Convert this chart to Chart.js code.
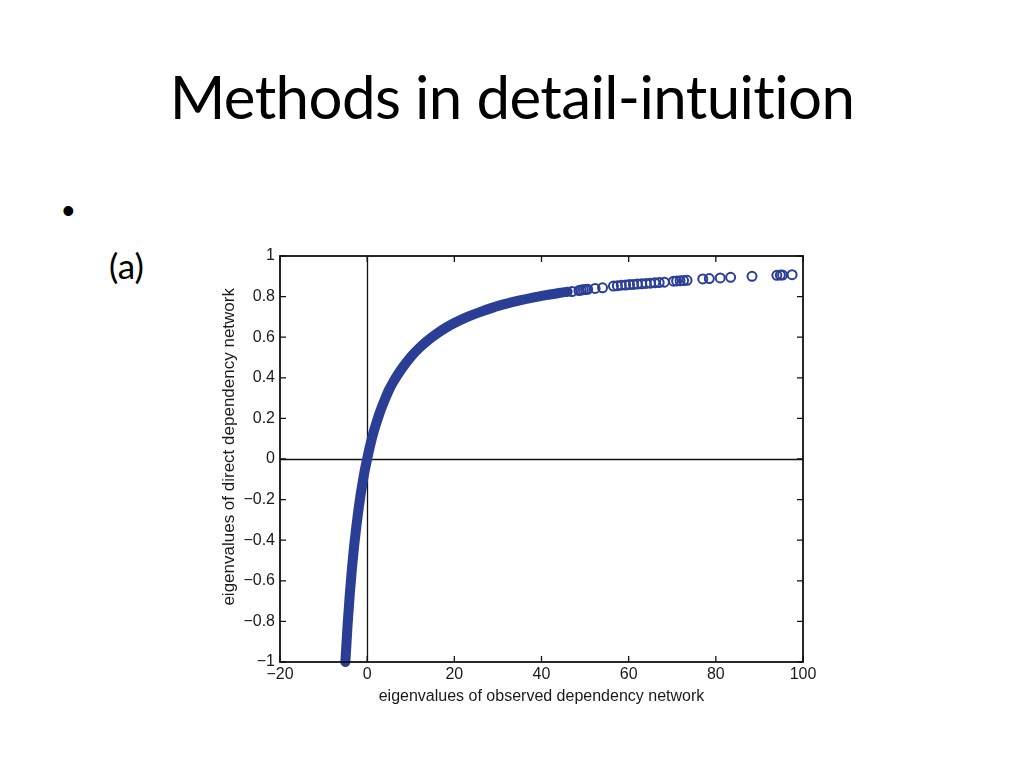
<!DOCTYPE html>
<html>
<head>
<meta charset="utf-8">
<script src="https://cdn.jsdelivr.net/npm/chart.js@4.4.1/dist/chart.umd.min.js"></script>
<style>
  body { margin: 0; background: #fff; width: 1024px; height: 768px; position: relative; overflow: hidden; }
  #title { position: absolute; left: 0; width: 1024px; top: 60px; text-align: center; font-family: Lato, "Open Sans", sans-serif; font-size: 60px; letter-spacing: -0.6px; font-variant-ligatures: none; color: #000; }
  #bullet { position: absolute; left: 62px; top: 190px; font-family: Arial, sans-serif; font-size: 36px; }
  #lbl { position: absolute; left: 109px; top: 244px; font-family: Lato, sans-serif; font-size: 35px; font-variant-ligatures: none; }
  #wrap { position: absolute; left: 215px; top: 240px; width: 615px; height: 470px; }
</style>
</head>
<body>
<div id="title">Methods in detail-intuition</div>
<div id="bullet">•</div>
<div id="lbl">(a)</div>
<div id="wrap"><canvas id="grafik"></canvas></div>
<script>
// dense part of the curve (drawn as a thick band of overlapping markers)
const denseX = [-5, -4.5, -4, -3.5, -3, -2.5, -2, -1.5, -1, -0.5, 0, 0.5, 1, 1.5, 2, 3, 4, 5, 6, 7, 8, 10, 12, 14, 16, 18, 20, 23, 26, 29, 32, 35, 38, 41, 44, 46];
const denseY = [-1.0, -0.82, -0.67, -0.54, -0.43, -0.335, -0.25, -0.175, -0.11, -0.05, 0.0, 0.05, 0.095, 0.135, 0.17, 0.235, 0.29, 0.34, 0.38, 0.415, 0.447, 0.503, 0.548, 0.586, 0.618, 0.646, 0.67, 0.7, 0.725, 0.747, 0.765, 0.781, 0.795, 0.807, 0.818, 0.824];
// sparse tail of separate eigenvalues
const tailX = [47, 48.6, 49.1, 49.6, 50.1, 50.6, 52.3, 54, 56.5, 57.4, 58.3, 59.3, 60.2, 61.1, 62, 63, 64, 65, 66, 67, 68.2, 70.3, 71, 71.8, 72.6, 73.4, 77, 78.5, 81, 83.4, 88.3, 94, 94.8, 95.3, 97.5];
const tailY = [0.825, 0.83, 0.832, 0.834, 0.835, 0.836, 0.84, 0.843, 0.852, 0.854, 0.856, 0.857, 0.859, 0.86, 0.862, 0.863, 0.865, 0.866, 0.868, 0.869, 0.871, 0.876, 0.877, 0.878, 0.879, 0.88, 0.887, 0.889, 0.892, 0.895, 0.9, 0.905, 0.906, 0.906, 0.908];
const xTicks = [-20, 0, 20, 40, 60, 80, 100];
const yTicks = [-1, -0.8, -0.6, -0.4, -0.2, 0, 0.2, 0.4, 0.6, 0.8, 1];
const judulY = 'eigenvalues of direct dependency network';

const biru = '#2b3e96';
const pts = (xs, ys) => xs.map((x, i) => ({ x: x, y: ys[i] }));
const minus = v => String(v).replace('-', '\u2212');

// matlab style box, inward ticks, zero lines and the y label
const kotak = {
    id: 'kotak',
    beforeDatasetsDraw(chart) {
        const { ctx, chartArea: a, scales: { x, y } } = chart;
        ctx.save();
        ctx.strokeStyle = '#111';
        ctx.lineWidth = 1.3;
        ctx.beginPath();
        const x0 = Math.round(x.getPixelForValue(0)) + 0.5;
        const y0 = Math.round(y.getPixelForValue(0)) + 0.5;
        ctx.moveTo(x0, a.top); ctx.lineTo(x0, a.bottom);
        ctx.moveTo(a.left, y0); ctx.lineTo(a.right, y0);
        ctx.stroke();
        ctx.restore();
    },
    afterDraw(chart) {
        const { ctx, chartArea: a, scales: { x, y } } = chart;
        ctx.save();
        ctx.strokeStyle = '#111';
        ctx.lineWidth = 1.8;
        ctx.strokeRect(a.left, a.top, a.right - a.left, a.bottom - a.top);
        ctx.lineWidth = 1.3;
        ctx.beginPath();
        xTicks.forEach(v => {
            const px = x.getPixelForValue(v);
            ctx.moveTo(px, a.bottom); ctx.lineTo(px, a.bottom - 6);
            ctx.moveTo(px, a.top); ctx.lineTo(px, a.top + 6);
        });
        yTicks.forEach(v => {
            const py = y.getPixelForValue(v);
            ctx.moveTo(a.left, py); ctx.lineTo(a.left + 6, py);
            ctx.moveTo(a.right, py); ctx.lineTo(a.right - 6, py);
        });
        ctx.stroke();
        // y label sits a bit above the middle of the axis, like the original
        ctx.translate(14, y.getPixelForValue(0.06));
        ctx.rotate(-Math.PI / 2);
        ctx.fillStyle = '#1a1a1a';
        ctx.font = '17px "Liberation Sans"';
        ctx.textAlign = 'center';
        ctx.textBaseline = 'middle';
        ctx.fillText(judulY, 0, 0);
        ctx.restore();
    }
};

const ctx = document.getElementById('grafik').getContext('2d');
const chart = new Chart(ctx, {
    type: 'scatter',
    data: {
        datasets: [{
            label: 'dense',
            data: pts(denseX, denseY),
            showLine: true,
            borderColor: biru,
            borderWidth: 10,
            borderCapStyle: 'round',
            cubicInterpolationMode: 'monotone',
            pointRadius: 0,
            clip: false
        }, {
            label: 'tail',
            data: pts(tailX, tailY),
            borderColor: biru,
            backgroundColor: 'rgba(255,255,255,0)',
            borderWidth: 2,
            pointRadius: 4.5,
            clip: false
        }]
    },
    options: {
        responsive: true,
        maintainAspectRatio: false,
        animation: false,
        layout: { padding: { top: 16, right: 27, bottom: 0, left: 0 } },
        plugins: {
            legend: { display: false },
            tooltip: { enabled: false }
        },
        scales: {
            x: {
                type: 'linear',
                min: -20,
                max: 100,
                afterBuildTicks: s => { s.ticks = xTicks.map(v => ({ value: v })); },
                afterFit: s => { s.height = 48; },
                grid: { display: false, drawTicks: false },
                border: { display: false },
                ticks: { color: '#1a1a1a', padding: 3, font: { family: 'Liberation Sans', size: 16 }, callback: minus },
                title: { display: true, text: 'eigenvalues of observed dependency network', color: '#1a1a1a', padding: { top: -2 }, font: { family: 'Liberation Sans', size: 16 } }
            },
            y: {
                type: 'linear',
                min: -1,
                max: 1,
                afterBuildTicks: s => { s.ticks = yTicks.map(v => ({ value: v })); },
                afterFit: s => { s.width = 65; },
                grid: { display: false, drawTicks: false },
                border: { display: false },
                ticks: { color: '#1a1a1a', padding: 5, font: { family: 'Liberation Sans', size: 16 }, callback: minus },
                title: { display: false }
            }
        }
    },
    plugins: [kotak]
});
</script>
</body>
</html>
